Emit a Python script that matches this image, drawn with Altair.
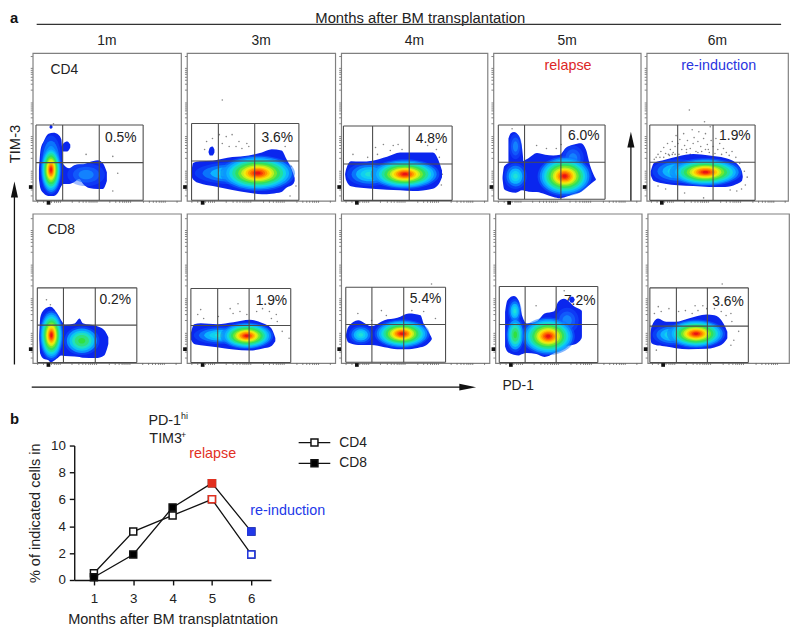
import altair as alt
import pandas as pd

FONT = "Liberation Sans"
INK = "#222222"
FRAME = "#808080"
GATE = "#4d4d4d"
RED = "#e2301f"
BLUE = "#2238e8"

# ---- line chart values ----
MONTHS = ["1", "3", "4", "5", "6"]
CD4_PCT = [0.5, 3.6, 4.8, 6.0, 1.9]
CD8_PCT = [0.2, 1.9, 5.4, 7.2, 3.6]

# ---- flow panels ----
MONTH_LABELS = ["1m", "3m", "4m", "5m", "6m"]
ROW_SIZES = [[150, 151, 149, 150, 149], [151, 151, 151, 151, 146]]
DRAW_WIDTHS = [[150, 150, 148, 149, 143], [150, 150, 150, 148, 143]]
ROW_HEIGHTS = [149.5, 151]
PCT_LABELS = [["0.5%", "3.6%", "4.8%", "6.0%", "1.9%"], ["0.2%", "1.9%", "5.4%", "7.2%", "3.6%"]]
PCT_POS = [[(89, 64), (92, 64), (92, 63), (92, 66), (93, 66)], [(84, 64), (86, 63), (86, 65), (87, 63), (83, 62)]]
# gate: x0, x1, x2, x3, ytop, ymid, ybot
GATES = [
    [(3.3, 30.3, 67.3, 111.7, 76.7, 38.7, 0.7), (4.7, 32, 69, 114, 78.3, 40.3, 0.7), (2.3, 32, 69.3, 113, 75.7, 37.3, 0.5),
     (5, 31.7, 68.7, 113.7, 76.7, 39, 1.7), (3.3, 32.7, 70, 114.3, 76.7, 39, 0.5)],
    [(4.7, 31.3, 63.7, 106, 76, 38.3, 0.5), (4, 31.3, 63.3, 105.7, 75.3, 38, 0.5), (4.7, 31.3, 63.7, 106.3, 76.7, 39, 0.7),
     (4, 30.7, 62.7, 105.7, 77.3, 39, 0.5), (2.3, 29.7, 61.7, 104, 76, 37.3, 0.5)],
]
MAJOR_X = [31, 68, 102, 136]
MAJOR_Y = [32, 67, 102, 136]
MINOR_X = [5, 11, 15, 19, 22, 24, 26, 28, 40, 47, 51, 54, 57, 59, 61, 63, 65, 78, 84, 88, 91, 93, 95, 97, 99, 112, 118, 122, 125, 128, 130, 132, 134, 146]
MINOR_Y = [5, 11, 15, 19, 22, 24, 26, 28, 30, 43, 49, 53, 56, 59, 61, 63, 65, 78, 84, 88, 91, 93, 95, 97, 99, 112, 118, 122, 125, 128, 130, 132, 134, 146]

# density outlines: (id, x, upper, lower)
B11 = [(0, 6.3, 31.7, 21.7), (0, 8, 52, 12), (0, 11, 60, 7.7), (0, 16, 68, 5), (0, 21, 69, 5), (0, 26, 67, 9), (0, 29, 62, 15),
       (0, 31, 37, 17), (0, 37, 33, 17), (0, 42, 36, 19), (0, 47, 37, 22), (0, 51, 37, 17), (0, 57, 39, 13), (0, 66, 41, 12), (0, 71, 38, 12), (0, 75, 29, 20),
       (1, 29, 54, 53), (1, 31, 58, 50), (1, 35, 60, 50), (1, 38, 57, 54),
       (2, 17, 75, 74), (2, 18.3, 77, 73), (2, 20, 75.5, 74)]
B12 = [(0, 4.7, 30, 25), (0, 6.3, 38.3, 21.7), (0, 13, 40, 17.7), (0, 26.3, 40.7, 15), (0, 46.3, 44.3, 11), (0, 63, 46, 8.3), (0, 76.3, 49, 6.7),
       (0, 86.3, 52.3, 7.3), (0, 96.3, 51, 9), (0, 101.3, 42.3, 13.3), (0, 108, 28.3, 16.7), (0, 109.7, 23.3, 20),
       (1, 22, 50, 49), (1, 23.5, 54, 46), (1, 26, 55, 46), (1, 28, 52, 49)]
B13 = [(0, 4, 27, 27), (0, 5, 32, 21), (0, 10, 40, 14.7), (0, 20, 39.7, 13.3), (0, 31.7, 40.7, 12.3), (0, 46.7, 44.7, 11.3), (0, 60, 49, 10.7),
       (0, 73.3, 49, 10), (0, 93.3, 49, 12.3), (0, 99.3, 40.7, 16.7), (0, 102.7, 30.7, 24)]
B14 = [(0, 9.3, 24, 22), (0, 11, 35, 11.7), (0, 16, 38.3, 9.3), (0, 22.7, 39, 8.3), (0, 29.3, 40, 10.7), (0, 36, 43.3, 9.3), (0, 44.3, 48.3, 9),
       (0, 52.7, 46.7, 6.7), (0, 61, 46, 4), (0, 67.7, 46.7, 2.7), (0, 73.3, 53.3, 4), (0, 81, 56.7, 6.7), (0, 89.3, 58.3, 9.3), (0, 94.3, 51.7, 13.3),
       (0, 98.7, 35, 16.7), (0, 104.3, 22, 21),
       (1, 15.3, 63, 38), (1, 17.7, 68.3, 38), (1, 21, 69.7, 38), (1, 25.3, 66.7, 38), (1, 28.7, 56.7, 38), (1, 30.3, 43, 38)]
B15 = [(0, 4.3, 30, 26), (0, 7.7, 38.3, 20), (0, 19.3, 41.7, 17.3), (0, 32.7, 45, 15.7), (0, 49.3, 47.3, 15), (0, 66, 46, 14), (0, 82.7, 43.3, 14),
       (0, 94.3, 38.3, 16.7), (0, 100.3, 30, 20), (0, 101.3, 25, 24)]
B21 = [(0, 6.7, 27.7, 24.3), (0, 7.7, 46, 9.3), (0, 11, 53.3, 4.3), (0, 16, 56.7, 2.7), (0, 18.3, 57, 0.5), (0, 24.3, 51, 4.3), (0, 29.3, 42.7, 7.7),
       (0, 32.7, 38.7, 7), (0, 42.7, 40, 6.7), (0, 47.7, 45, 6), (0, 51, 40.3, 5.3), (0, 64.3, 37.7, 5), (0, 72.7, 33.3, 7.7), (0, 77, 26, 19.3)]
B22 = [(0, 4, 30.3, 23.7), (0, 7.3, 39.3, 19.3), (0, 14, 40.3, 18), (0, 30.7, 39.3, 16), (0, 47.3, 41.3, 13.7), (0, 64, 43.7, 12.7), (0, 77.3, 40.3, 14.7),
       (0, 85.7, 35.3, 17), (0, 90, 25.3, 22)]
B23 = [(0, 4.7, 28.3, 26.7), (0, 7.3, 36.7, 20.7), (0, 17.3, 43.3, 18.3), (0, 30.7, 37.3, 18.3), (0, 44, 43.3, 16), (0, 57.3, 45.7, 14), (0, 69, 50, 14),
       (0, 80.7, 48.3, 16), (0, 84, 40, 16.7), (0, 90.7, 28.3, 21.7), (0, 92.3, 25, 24)]
B24 = [(0, 10, 51.7, 16.7), (0, 12.3, 63.3, 11.7), (0, 19, 67.7, 8.3), (0, 24, 63.3, 7.7), (0, 28, 46.7, 9), (0, 32.3, 40, 10), (0, 42.3, 41.7, 9),
       (0, 50.7, 50, 6), (0, 60.7, 52.3, 10), (0, 64.7, 61.7, 12.3), (0, 70.7, 65, 16.7), (0, 82.3, 56.7, 19), (0, 89, 53, 25), (0, 89.3, 52, 27),
       (1, 76, 64, 64), (1, 78, 67, 61), (1, 80, 67, 61), (1, 82, 64, 64)]
B25 = [(0, 3, 30, 25), (0, 4, 36.7, 20), (0, 10.7, 45, 17.7), (0, 19, 41.7, 16.7), (0, 29, 41.7, 15), (0, 42.3, 45, 14), (0, 60.7, 49, 14.3),
       (0, 69, 48.3, 15.7), (0, 78.3, 40, 20), (0, 82.3, 31.7, 25)]
BLOBS = [[B11, B12, B13, B14, B15], [B21, B22, B23, B24, B25]]

# density centres, elliptical: (kind, x0, x1, y0, y1)
C11 = [("weak", 35, 73, 15, 38), ("cool", 8, 29, 14, 66), ("hot", 8, 29, 7, 56)]
C12 = [("cool", 8, 88, 17, 39), ("hot", 34, 110, 10, 46)]
C13 = [("cool", 6, 52, 15, 39), ("hot", 30, 100, 12, 42)]
C14 = [("weak", 16, 29, 42, 68), ("cool", 11, 34, 12, 38), ("weak", 70, 92, 30, 56), ("hot", 45, 100, 5, 45)]
C15 = [("cool", 6, 60, 18, 42), ("hot", 24, 100, 15, 43)]
C21 = [("warm", 32, 68, 8, 37), ("hot", 7, 31, 3, 53)]
C22 = [("cool", 7, 60, 19, 37), ("hot", 34, 88, 14, 41)]
C23 = [("cool", 8, 32, 19, 38), ("hot", 34, 90, 15, 44)]
C24 = [("weak", 62, 86, 30, 56), ("cool", 13, 27, 40, 65), ("warm", 11, 30, 11, 46), ("hot", 27, 82, 8, 46)]
C25 = [("cool", 5, 46, 18, 39), ("hot", 20, 80, 15, 44)]
CORES = [[C11, C12, C13, C14, C15], [C21, C22, C23, C24, C25]]

# sparse events
D11 = [(54, 47), (81, 45), (86, 28), (81, 10), (21, 78)]
D12 = [(20, 60), (26, 63), (33, 67), (40, 65), (46, 67), (53, 60), (61, 58), (63, 55), (36, 58), (43, 55), (50, 55), (56, 53), (18, 52), (36, 102), (100, 55), (106, 35), (111, 15), (105, 5)]
D13 = [(35, 54), (43, 57), (53, 56), (62, 52), (37, 47), (12, 47), (27, 44), (88, 56), (97, 52), (100, 44), (103, 27), (102, 16), (58, 57), (50, 51)]
D14 = [(44, 56), (54, 53), (69, 57), (19, 73), (64, 53)]
D15 = [(12, 47), (15, 50), (18, 54), (20, 48), (22, 58), (24, 46), (25, 52), (27, 60), (28, 49), (30, 55), (31, 66), (33, 58), (34, 47), (35, 62), (37, 52),
       (39, 68), (40, 56), (42, 49), (43, 61), (45, 92), (46, 53), (48, 72), (49, 58), (50, 64), (52, 50), (54, 60), (55, 70), (57, 55), (58, 50), (60, 63),
       (61, 80), (62, 68), (64, 57), (65, 52), (67, 75), (68, 61), (70, 55), (72, 48), (73, 63), (75, 52), (77, 58), (79, 47), (81, 53), (84, 49), (87, 46),
       (90, 50), (94, 44), (98, 38), (103, 30), (106, 24), (104, 16), (100, 12), (95, 10), (88, 11), (60, 3), (40, 8), (20, 12), (12, 15), (8, 42), (10, 44),
       (14, 44), (18, 44), (23, 47), (27, 47), (62, 52), (66, 49), (42, 52), (46, 47), (54, 49), (30, 47)]
D21 = [(14, 64), (18, 59)]
D22 = [(14, 54), (11, 49), (17, 45), (44, 55), (52, 60), (47, 50), (54, 52), (71, 52), (77, 55), (84, 52), (91, 49), (92, 42), (97, 32), (104, 25), (32, 47), (61, 49), (86, 45)]
D23 = [(17, 50), (41, 53), (46, 48), (72, 53), (84, 52), (96, 45), (92, 80), (31, 43)]
D24 = [(42, 58), (71, 73)]
D25 = [(11, 57), (7, 50), (14, 52), (32, 52), (39, 53), (49, 58), (57, 58), (61, 55), (46, 50), (69, 55), (77, 80), (81, 48), (86, 50), (87, 42), (94, 32), (89, 23), (86, 18), (9, 13), (22, 55), (52, 53), (76, 52)]
DOTS = [[D11, D12, D13, D14, D15], [D21, D22, D23, D24, D25]]

# colour ramps of the density plot, outer to inner: (fraction of the centre's size, colour)
RAMPS = {
    "weak": [(1, "rgba(20,90,255,0.4)"), (0.7, "rgba(20,110,255,0.6)"), (0.4, "rgba(20,140,255,0.8)")],
    "cool": [(1, "rgba(10,100,255,0.4)"), (0.8, "rgba(10,140,255,0.7)"), (0.6, "#0cb4ff"), (0.4, "#10d0f0"), (0.2, "#20e0d8")],
    "warm": [(1, "rgba(10,110,255,0.4)"), (0.85, "#0a96ff"), (0.7, "#0cc8f0"), (0.55, "#20e0c0"), (0.4, "#30e080"), (0.2, "#30e040")],
    "hot": [(1, "rgba(10,110,255,0.5)"), (0.92, "rgba(10,150,255,0.8)"), (0.84, "#0cb4ff"), (0.76, "#10d8e0"), (0.68, "#20e0a0"), (0.6, "#30e060"),
            (0.52, "#70e830"), (0.44, "#c0ee20"), (0.38, "#f0ec10"), (0.32, "#ffc800"), (0.26, "#ff9800"), (0.2, "#ff6a00"), (0.14, "#f83a08"), (0.08, "#e81414")],
}
BLOB_FILL = "#0a26ee"
ONE = pd.DataFrame({"a": [0]})


def core_table(rows, xk, yk):
    out = []
    for kind, x0, x1, y0, y1 in rows:
        a, b = (x1 - x0) * xk, (y1 - y0) * yk
        path = f"M-1,0A1,{b / a:.3f},0,1,1,1,0A1,{b / a:.3f},0,1,1,-1,0Z"
        for frac, colour in RAMPS[kind]:
            out.append({"x": (x0 + x1) / 2, "y": (y0 + y1) / 2, "s": (a * frac) ** 2, "path": path, "c": colour})
    return pd.DataFrame(out)


def panel(r, c, label_text=None, note=None, note_color=INK, up_arrow=False, left_shift=0):
    w, h, dw = ROW_SIZES[r][c], ROW_HEIGHTS[r], DRAW_WIDTHS[r][c]
    xs = alt.Scale(domain=[0, w], nice=False, zero=False)
    ys = alt.Scale(domain=[0, h], nice=False, zero=False)
    X = lambda f="x": alt.X(f"{f}:Q", scale=xs, axis=None)
    Y = lambda f="y": alt.Y(f"{f}:Q", scale=ys, axis=None)
    layers = []
    layers.append(
        alt.Chart(pd.DataFrame({"x": MAJOR_X, "y": MAJOR_Y})).mark_point(opacity=0).encode(
            x=alt.X("x:Q", scale=xs, axis=alt.Axis(values=MAJOR_X, labels=False, domain=False, grid=False, title=None, tickSize=3, tickColor="#444444", tickWidth=1)),
            y=alt.Y("y:Q", scale=ys, axis=alt.Axis(values=MAJOR_Y, labels=False, domain=False, grid=False, title=None, tickSize=3, tickColor="#444444", tickWidth=1)),
        )
    )
    mx = [v for v in MINOR_X if v < w]
    my = [v for v in MINOR_Y if v < h]
    layers.append(alt.Chart(pd.DataFrame({"x": mx})).mark_rule(color="#666666", strokeWidth=0.8).encode(x=X(), y=alt.value(h), y2=alt.value(h + 2)))
    layers.append(alt.Chart(pd.DataFrame({"y": my})).mark_rule(color="#666666", strokeWidth=0.8).encode(y=Y(), x=alt.value(-2), x2=alt.value(0)))
    layers.append(alt.Chart(pd.DataFrame({"x": [16]})).mark_square(color="#111111", size=14, opacity=1).encode(x=X(), y=alt.value(h + 2)))
    layers.append(alt.Chart(pd.DataFrame({"y": [14]})).mark_square(color="#111111", size=14, opacity=1).encode(y=Y(), x=alt.value(-2)))
    if left_shift:
        layers.append(alt.Chart(ONE).mark_rule(color="#ffffff", opacity=0).encode(x=alt.value(-left_shift), x2=alt.value(-left_shift + 1), y=alt.value(h)))
    px, py = PCT_POS[r][c]
    layers.append(alt.Chart(pd.DataFrame({"x": [px], "y": [py], "t": [PCT_LABELS[r][c]]})).mark_text(fontSize=14, color=INK).encode(x=X(), y=Y(), text="t:N"))
    d = pd.DataFrame(DOTS[r][c], columns=["x", "y"])
    layers.append(alt.Chart(d).mark_circle(size=2.5, color="#777777", opacity=0.9).encode(x=X(), y=Y()))
    b = pd.DataFrame(BLOBS[r][c], columns=["id", "x", "top", "bot"])
    layers.append(alt.Chart(b).mark_area(interpolate="monotone", color=BLOB_FILL).encode(x=X(), y=Y("top"), y2="bot:Q", detail="id:N"))
    core = core_table(CORES[r][c], dw / w, 1)
    layers.append(alt.Chart(core).mark_point(filled=True, opacity=1, strokeWidth=0).encode(
        x=X(), y=Y(), size=alt.Size("s:Q", scale=None), shape=alt.Shape("path:N", scale=None), fill=alt.Fill("c:N", scale=None)))
    x0, x1, x2, x3, yt, ym, yb = GATES[r][c]
    layers.append(alt.Chart(pd.DataFrame({"x": [x0, x1, x2, x3], "t": [yt] * 4, "b": [yb] * 4})).mark_rule(color=GATE, strokeWidth=1.1).encode(x=X(), y=Y("t"), y2="b:Q"))
    layers.append(alt.Chart(pd.DataFrame({"y": [yt, ym, yb], "l": [x0] * 3, "m": [x3] * 3})).mark_rule(color=GATE, strokeWidth=1.1).encode(y=Y(), x=X("l"), x2="m:Q"))
    if label_text:
        layers.append(alt.Chart(pd.DataFrame({"x": [label_text[1]], "y": [label_text[2]], "t": [label_text[0]]})).mark_text(fontSize=14, color=INK).encode(x=X(), y=Y(), text="t:N"))
    if note:
        layers.append(alt.Chart(pd.DataFrame({"x": [76], "y": [136.7], "t": [note]})).mark_text(fontSize=14.5, color=note_color).encode(x=X(), y=Y(), text="t:N"))
    if up_arrow:
        layers.append(alt.Chart(pd.DataFrame({"x": [140], "y": [0], "y2": [56]})).mark_rule(color="#111111", strokeWidth=1.3).encode(x=X(), y=Y(), y2="y2:Q"))
        layers.append(alt.Chart(pd.DataFrame({"x": [140], "y": [62]})).mark_point(shape="M-0.45,1L0,-1L0.45,1Z", size=256, filled=True, color="#111111", opacity=1).encode(x=X(), y=Y()))
    props = dict(width=dw, height=h, view=alt.ViewBackground(stroke=FRAME, strokeWidth=1.2))
    if r == 0:
        props["title"] = alt.TitleParams(MONTH_LABELS[c], fontSize=14, fontWeight="normal", color=INK, offset=5, anchor="middle")
    return alt.layer(*layers).properties(**props)


row1 = alt.hconcat(
    panel(0, 0, label_text=("CD4", 32, 132), left_shift=5.7),
    panel(0, 1), panel(0, 2),
    panel(0, 3, note="relapse", note_color="#dc2626", up_arrow=True),
    panel(0, 4, note="re-induction", note_color="#2a35e0"),
    spacing=0,
)
row2 = alt.hconcat(
    panel(1, 0, label_text=("CD8", 29, 134)),
    panel(1, 1), panel(1, 2), panel(1, 3), panel(1, 4),
    spacing=0,
)
grid = alt.vconcat(row1, row2, spacing=7.5)

strip = alt.layer(
    alt.Chart(ONE).mark_rule(color="#111111", strokeWidth=1.3).encode(x=alt.value(4.5), y=alt.value(145), y2=alt.value(315)),
    alt.Chart(ONE).mark_point(shape="M-0.45,1L0,-1L0.45,1Z", size=256, filled=True, color="#111111", opacity=1).encode(x=alt.value(4.5), y=alt.value(138)),
    alt.Chart(ONE).mark_text(text="TIM-3", angle=270, fontSize=15, color=INK).encode(x=alt.value(5), y=alt.value(92)),
).properties(width=16, height=315)

header = alt.layer(
    alt.Chart(ONE).mark_text(text="a", fontSize=15, fontWeight="bold", color="#111111", align="left", baseline="top").encode(x=alt.value(0), y=alt.value(0)),
    alt.Chart(ONE).mark_text(text="Months after BM transplantation", fontSize=15, color=INK, baseline="top").encode(x=alt.value(415), y=alt.value(0)),
    alt.Chart(ONE).mark_rule(color="#333333", strokeWidth=1.2).encode(x=alt.value(27), x2=alt.value(780), y=alt.value(13)),
).properties(width=780, height=22)

pd_strip = alt.layer(
    alt.Chart(ONE).mark_rule(color="#111111", strokeWidth=1.3).encode(x=alt.value(22), x2=alt.value(458), y=alt.value(20)),
    alt.Chart(ONE).mark_point(shape="M-1,-0.4L1,0L-1,0.4Z", size=289, filled=True, color="#111111", opacity=1).encode(x=alt.value(463), y=alt.value(20)),
    alt.Chart(ONE).mark_text(text="PD-1", fontSize=14, color=INK).encode(x=alt.value(514), y=alt.value(19)),
).properties(width=780, height=45)

long = pd.DataFrame({
    "month": MONTHS * 2,
    "pct": CD4_PCT + CD8_PCT,
    "series": ["CD4"] * 5 + ["CD8"] * 5,
})
xm = alt.X("month:O", sort=MONTHS, scale=alt.Scale(paddingOuter=0.5), axis=alt.Axis(
    title="Months after BM transplatntation", labelAngle=0, labelFontSize=13.5, titleFontSize=14.7, titleFontWeight="normal",
    domainColor="#111111", domainWidth=1.4, tickColor="#111111", tickWidth=1.4, tickSize=5, labelColor=INK, titleColor=INK, labelPadding=7, titlePadding=7))
ym = alt.Y("pct:Q", scale=alt.Scale(domain=[0, 10], nice=False), axis=alt.Axis(
    title="% of indicated cells in", values=[0, 2, 4, 6, 8, 10], grid=False, labelFontSize=13.5, titleFontSize=14.7, titleFontWeight="normal",
    domainColor="#111111", domainWidth=1.4, tickColor="#111111", tickWidth=1.4, tickSize=5, labelColor=INK, titleColor=INK, labelPadding=4, titlePadding=8))
line = alt.Chart(long).mark_line(color="#111111", strokeWidth=1.3).encode(x=xm, y=ym, detail="series:N")
pts = alt.Chart(long).mark_square(size=50, stroke="#111111", strokeWidth=1.5, opacity=1).encode(
    x=xm, y=ym,
    fill=alt.Fill("series:N", scale=alt.Scale(domain=["CD4", "CD8"], range=["#ffffff", "#000000"]), legend=None),
)
hi = long[long.month.isin(["5", "6"])].copy()
hi["col"] = hi.month.map({"5": RED, "6": BLUE})
overlays = []
for col in [RED, BLUE]:
    for s, fill in [("CD4", "#ffffff"), ("CD8", col)]:
        overlays.append(alt.Chart(hi[(hi.col == col) & (hi.series == s)]).mark_square(size=50, stroke=col, strokeWidth=1.5, fill=fill, opacity=1).encode(x=xm, y=ym))


def note(text, x, y, size=14.5, color=INK, weight="normal", align="center"):
    return alt.Chart(ONE).mark_text(text=text, fontSize=size, color=color, fontWeight=weight, align=align).encode(x=alt.value(x), y=alt.value(y))


key = []
for name, yy, fill in [("CD4", -3, "#ffffff"), ("CD8", 18, "#000000")]:
    key.append(alt.Chart(ONE).mark_rule(color="#111111", strokeWidth=1.3).encode(x=alt.value(227), x2=alt.value(259), y=alt.value(yy)))
    key.append(alt.Chart(ONE).mark_square(size=50, stroke="#111111", strokeWidth=1.5, fill=fill, opacity=1).encode(x=alt.value(243), y=alt.value(yy)))
    key.append(note(name, 268, yy, size=14, align="left"))

lines = alt.layer(
    line, pts, *overlays, *key,
    note("PD-1", 75, -25, align="left"),
    note("hi", 108, -30, size=9, align="left"),
    note("TIM3", 76, -7, align="left"),
    note("+", 108, -11, size=9, align="left"),
    note("relapse", 140, 9, color=RED),
    note("re-induction", 216, 66, color=BLUE),
).properties(width=199, height=136)

b_label = note("b", 0, -27, size=15, color="#111111", weight="bold", align="left").properties(width=17, height=136)

chart = alt.vconcat(
    header,
    alt.hconcat(strip, grid, spacing=0),
    pd_strip,
    alt.hconcat(b_label, lines, spacing=0),
    spacing=0,
).properties(padding=0).configure(font=FONT).configure_view(stroke=None).configure_concat(spacing=0)

chart.save("out.html", embed_options={"renderer": "svg", "actions": False})
